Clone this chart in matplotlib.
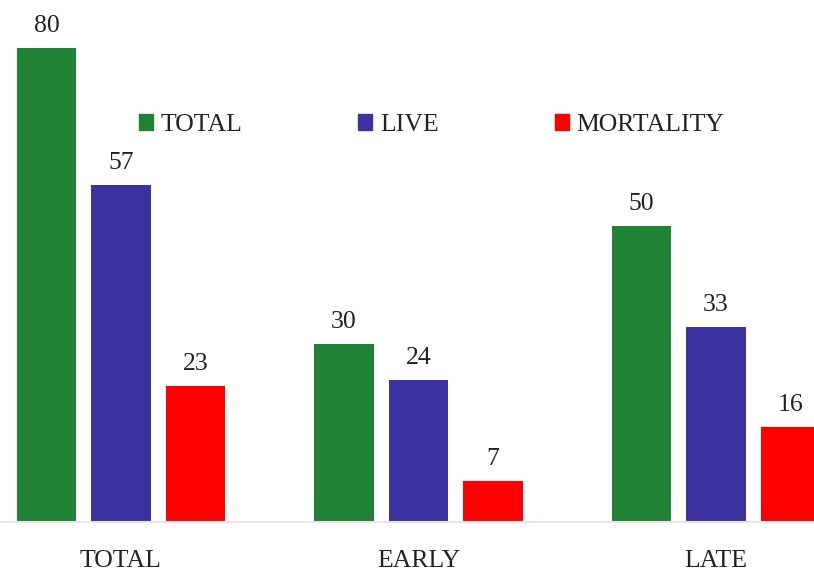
import numpy as np
import matplotlib.pyplot as plt
from matplotlib.patches import Patch

plt.rcParams['font.family'] = ['Liberation Serif', 'DejaVu Serif']

# 数据
groups = ['TOTAL', 'EARLY', 'LATE']
series = ['TOTAL', 'LIVE', 'MORTALITY']
total = [80, 30, 50]
live = [57, 24, 33]
mortality = [23, 7, 16]
colors = ['#1f8235', '#3c32a0', '#ff0000']

fig = plt.figure(figsize=(8.14, 5.75), dpi=100)
ax = fig.add_axes([0, 53 / 575, 1, 522 / 575])

x = np.arange(len(groups))
width = 0.2
offset = 0.2504
for i, (vals, c) in enumerate(zip([total, live, mortality], colors)):
    bars = ax.bar(x + (i - 1) * offset, vals, width, color=c, label=series[i])
    for b, v in zip(bars, vals):
        ax.annotate(str(v), (b.get_x() + b.get_width() / 2, v),
                    xytext=(0, 11.5), textcoords='offset points',
                    ha='center', va='baseline', fontsize=18.5, color='#222222')

ax.set_xlim(-0.4067, 2.3294)
ax.set_ylim(0, 522 / 5.92)
ax.set_xticks(x)
ax.set_xticklabels(groups, fontsize=18.5, color='#222222')
ax.tick_params(axis='x', length=0, pad=20.5)
ax.set_yticks([])
for s in ['top', 'right', 'left']:
    ax.spines[s].set_visible(False)
ax.spines['bottom'].set_color('#e6e6e6')
ax.spines['bottom'].set_linewidth(1.5)
ax.patch.set_alpha(0)

handles = [Patch(color=c) for c in colors]
ax.legend(handles, series, ncol=3, frameon=False, fontsize=18.5,
          loc='center left', bbox_to_anchor=(139 / 814, 1 - 125 / 575),
          bbox_transform=fig.transFigure, borderaxespad=0, borderpad=0,
          handlelength=0.55, handleheight=0.55, handletextpad=0.3,
          columnspacing=4.5, labelcolor='#222222')

fig.savefig('out.png', dpi=100)
